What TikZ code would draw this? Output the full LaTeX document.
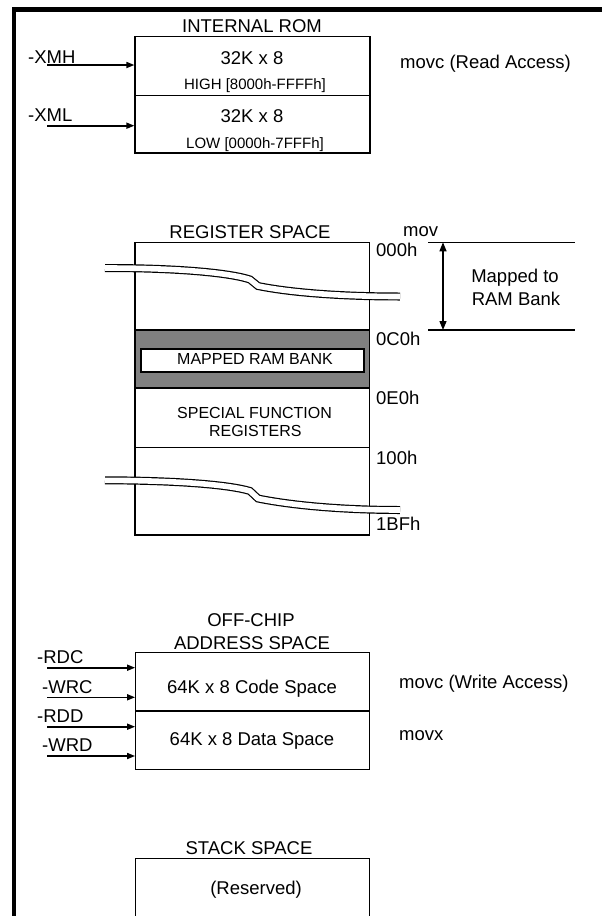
\documentclass[tikz,border=0pt]{standalone}
\usepackage{fontspec}
\setmainfont{Liberation Sans}
\usetikzlibrary{arrows.meta}
\tikzset{
  big/.style={font=\fontsize{18.5}{20}\selectfont, inner sep=0pt, text height=13.2pt, text depth=0pt},
  small/.style={font=\fontsize{15}{17}\selectfont, inner sep=0pt, text height=10.7pt, text depth=0pt},
  midtxt/.style={font=\fontsize{16}{18}\selectfont, inner sep=0pt, text height=11.5pt, text depth=0pt},
  cell/.style={draw=black, line width=1.2pt, inner sep=0pt, fill=white},
  sig/.style={line width=1.6pt, -{Triangle[length=8pt,width=6pt]}},
  dim/.style={line width=1.3pt, {Triangle[length=9pt,width=7pt]}-{Triangle[length=9pt,width=7pt]}},
  brk/.style={line width=1.2pt, double=white, double distance=5.6pt},
  frame/.style={line width=4.3pt},
  rule/.style={line width=1.3pt}
}
\begin{document}
\begin{tikzpicture}[x=1pt,y=-1pt]
\useasboundingbox (0,0) rectangle (602,916);
% frame
\draw[frame] (14,916) -- (14,9.5) -- (602,9.5);

% ---------- INTERNAL ROM ----------
\node[big] (romT) at (252,26) {INTERNAL ROM};
\node[cell, minimum width=235pt, minimum height=59pt] (romH) at (252.5,66.2) {};
\node[cell, minimum width=235pt, minimum height=57.3pt] (romL) at (252.5,124.35) {};
\node[big] (romH1) at (252,58) {32K x 8};
\node[small] (romH2) at (255,84) {HIGH [8000h-FFFFh]};
\node[big] (romL1) at (252,116) {32K x 8};
\node[small] (romL2) at (255,143) {LOW [0000h-7FFFh]};
\node[big, anchor=west] (xmh) at (28,57) {-XMH};
\node[big, anchor=west] (xml) at (28,115.3) {-XML};
\coordinate (xmhS) at (47,65);
\coordinate (xmlS) at (47,125.7);
\draw[sig] (xmhS) -- (xmhS -| romH.west);
\draw[sig] (xmlS) -- (xmlS -| romL.west);
\node[big, anchor=west] (rdacc) at (400,62) {movc (Read Access)};

% ---------- REGISTER SPACE ----------
\node[big] (regT) at (250,232) {REGISTER SPACE};
\node[cell, minimum width=234.3pt, minimum height=87.7pt] (regA) at (252.15,286.15) {};
\node[cell, fill={rgb,255:red,128;green,128;blue,128}, minimum width=234.3pt, minimum height=58pt] (regB) at (252.15,359) {};
\node[cell, minimum width=223pt, minimum height=23pt] (mrb) at (252.5,360.5) {};
\node[midtxt] (mrbT) at (255,358.5) {MAPPED RAM BANK};
\node[cell, minimum width=234.3pt, minimum height=59.7pt] (regC) at (252.15,417.85) {};
\node[midtxt] (sfr1) at (254.5,412.5) {SPECIAL FUNCTION};
\node[midtxt] (sfr2) at (255.3,430.8) {REGISTERS};
\node[cell, minimum width=234.3pt, minimum height=87.3pt] (regD) at (252.15,491.35) {};
% break marks
\draw[brk] (105,268) .. controls (180,268) and (230,273) .. (250,279.5) -- (258,286) .. controls (290,292.5) and (340,296.5) .. (400,296.5);
\draw[brk] (105,480.3) .. controls (180,480.5) and (230,485) .. (250,491) -- (258,498.5) .. controls (290,505) and (340,510) .. (400,510);
% addresses
\node[big, anchor=west] (mov) at (403,230) {mov};
\node[big, anchor=west] (a000) at (376,250) {000h};
\node[big, anchor=west] (a0C0) at (376,339) {0C0h};
\node[big, anchor=west] (a0E0) at (376,397.5) {0E0h};
\node[big, anchor=west] (a100) at (376,457.5) {100h};
\node[big, anchor=west] (a1BF) at (376,524) {1BFh};
% mapped range
\coordinate (r1a) at (428,242.3);
\coordinate (r1b) at (575,242.3);
\coordinate (r2a) at (428,330);
\coordinate (r2b) at (575,330);
\draw[rule] (r1a) -- (r1b);
\draw[rule] (r2a) -- (r2b);
\coordinate (d1) at (443,242.3);
\coordinate (d2) at (443,330);
\draw[dim] (d1) -- (d2);
\node[big] (map1) at (515,276) {Mapped to};
\node[big] (map2) at (516,299) {RAM Bank};

% ---------- OFF-CHIP ----------
\node[big] (offT1) at (251,620) {OFF-CHIP};
\node[big] (offT2) at (252,643.3) {ADDRESS SPACE};
\node[cell, minimum width=233.6pt, minimum height=58.7pt] (code) at (252.5,681.85) {};
\node[cell, minimum width=233.6pt, minimum height=58.3pt] (data) at (252.5,740.15) {};
\node[big] (codeT) at (252,687) {64K x 8 Code Space};
\node[big] (dataT) at (252,739) {64K x 8 Data Space};
\node[big, anchor=west] (rdc) at (37,656.7) {-RDC};
\node[big, anchor=west] (wrc) at (42,686.7) {-WRC};
\node[big, anchor=west] (rdd) at (37,715.7) {-RDD};
\node[big, anchor=west] (wrd) at (42,745) {-WRD};
\coordinate (rdcS) at (47,667.7);
\coordinate (wrcS) at (47,697.3);
\coordinate (rddS) at (47,726.7);
\coordinate (wrdS) at (47,756);
\draw[sig] (rdcS) -- (rdcS -| code.west);
\draw[sig] (wrcS) -- (wrcS -| code.west);
\draw[sig] (rddS) -- (rddS -| data.west);
\draw[sig] (wrdS) -- (wrdS -| data.west);
\node[big, anchor=west] (wracc) at (399,681.7) {movc (Write Access)};
\node[big, anchor=west] (movx) at (399,734) {movx};

% ---------- STACK SPACE ----------
\node[big] (stT) at (249,848) {STACK SPACE};
\coordinate (st1) at (135.5,916);
\coordinate (st2) at (135.5,858.3);
\coordinate (st3) at (369.3,858.3);
\coordinate (st4) at (369.3,916);
\draw[line width=1.2pt] (st1) -- (st2) -- (st3) -- (st4);
\node[big] (res) at (256,888) {(Reserved)};
\end{tikzpicture}
\end{document}
